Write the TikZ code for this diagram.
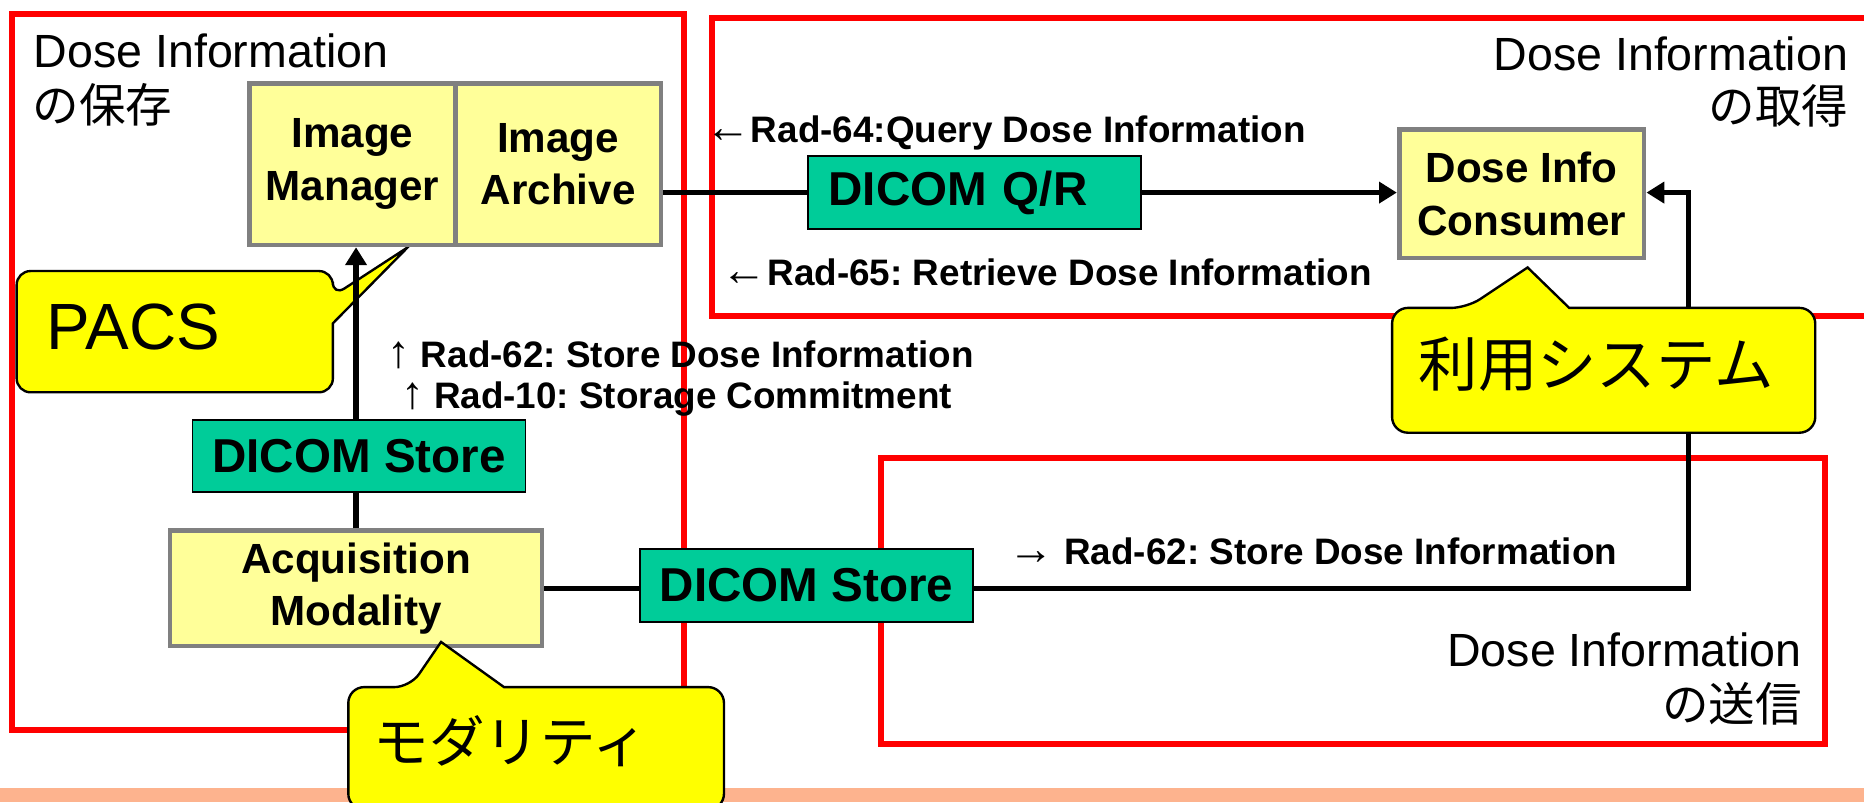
\documentclass[tikz,border=0pt]{standalone}
\usepackage{fontspec}
\setmainfont{Liberation Sans}
\newfontfamily\jpfont{Noto Sans CJK JP}
\usetikzlibrary{arrows.meta}
\definecolor{regionred}{HTML}{FF0000}
\definecolor{actorfill}{HTML}{FFFF99}
\definecolor{actorline}{HTML}{808080}
\definecolor{transfill}{HTML}{00CC99}
\definecolor{calloutfill}{HTML}{FFFF00}
\definecolor{bandfill}{HTML}{FDB38E}
\newcommand{\dirmark}[1]{{\mdseries\fontsize{23pt}{22pt}\selectfont #1}}
\begin{document}
\frenchspacing
\begin{tikzpicture}[x=0.6pt, y=-0.6pt,
  region/.style={draw=regionred, line width=3pt},
  regionlabel/.style={font=\fontsize{23.5pt}{28pt}\selectfont, inner sep=0pt},
  actor/.style={draw=actorline, fill=actorfill, line width=2.4pt, align=center,
    font=\bfseries\fontsize{21.3pt}{26.5pt}\selectfont, inner sep=0pt},
  trans/.style={draw=black, fill=transfill, line width=0.9pt, minimum width=168pt,
    minimum height=36.6pt, inner sep=0pt, font=\bfseries\fontsize{24pt}{28pt}\selectfont},
  msg/.style={font=\bfseries\fontsize{18.6pt}{22pt}\selectfont, inner sep=0pt, anchor=base west},
  link/.style={line width=2.6pt},
  flow/.style={link, -{Triangle[length=9pt, width=10.5pt]}},
  callout/.style={draw=black, fill=calloutfill, line width=1.2pt},
  callouttext/.style={inner sep=0pt, anchor=base west}
]
\useasboundingbox (0,0) rectangle (1568,675);

% profile regions
\draw[region] (10,12) rectangle (575,614);
\draw[region] (599,15) rectangle (1585,266);
\draw[region] (741,385) rectangle (1535,626);

% footer band
\fill[bandfill] (0,663) rectangle (1568,675);

% region titles
\node[regionlabel, anchor=base west] (t1a) at (28,57) {Dose Information};
\node[regionlabel, anchor=base west] (t1b) at (27,103) {\jpfont の保存};
\node[regionlabel, anchor=base east] (t2a) at (1555,59) {Dose Information};
\node[regionlabel, anchor=base east] (t2b) at (1555,104) {\jpfont の取得};
\node[regionlabel, anchor=base east] (t3a) at (1516,561) {Dose Information};
\node[regionlabel, anchor=base east] (t3b) at (1516,607) {\jpfont の送信};

% PACS callout (lies under the store arrow)
\draw[callout, rounded corners=7pt] (150,228) -- (280,228) -- (280,249) [sharp corners]
  -- (343,208) -- (280,272) [rounded corners=7pt] -- (280,330) -- (14,330) -- (14,228) -- cycle;
\node[callouttext, font=\fontsize{33pt}{36pt}\selectfont] (pacs) at (39,294) {PACS};

% actors
\node[actor, minimum width=103.8pt, minimum height=81.6pt] (im) at (296.5,138) {Image\\Manager};
\node[actor, minimum width=103.8pt, minimum height=81.6pt] (ia) at (469.5,138) {Image\\Archive};
\node[actor, minimum width=123.6pt, minimum height=64.8pt] (dic) at (1280,163) {Dose Info\\Consumer};
\node[actor, minimum width=187.8pt, minimum height=58.2pt] (am) at (299.5,495) {Acquisition\\Modality};

% transactions
\node[trans, text width=147.6pt, align=left, inner xsep=10.2pt] (dqr) at (820,162) {DICOM Q/R};
\node[trans] (st1) at (302,383.5) {DICOM Store};
\node[trans] (st2) at (678.5,492.5) {DICOM Store};

% connectors
\coordinate (bend) at (1420,495);
\draw[link] (ia.east |- dqr.west) -- (dqr.west);
\draw[flow] (dqr.east) -- (dic.west |- dqr.east);
\draw[link] (am.north) -- (am.north |- st1.south);
\draw[flow] (am.north |- st1.north) -- (am.north |- im.south);
\draw[link] (am.east) -- (am.east -| st2.west);
\draw[flow] (st2.east |- am.east) -- (bend) -- (bend |- dqr.east) -- (dic.east |- dqr.east);

% transaction labels
\node[msg] (q64) at (593,120) {\dirmark{←}Rad-64:Query Dose Information};
\node[msg] (r65) at (607,240) {\dirmark{←}Rad-65: Retrieve Dose Information};
\node[msg] (s62a) at (326,309) {\dirmark{↑} Rad-62: Store Dose Information};
\node[msg] (s10) at (337,344) {\dirmark{↑} Rad-10: Storage Commitment};
\node[msg] (s62b) at (848,475) {\dirmark{→} Rad-62: Store Dose Information};

% callouts
\draw[callout, rounded corners=8pt] (500,578) -- (609,578) -- (609,681) -- (293,681) -- (293,578)
  -- (345,578) [sharp corners] -- (371,540) -- (424,578) [rounded corners=8pt] -- cycle;
\node[callouttext, font=\jpfont\fontsize{28pt}{32pt}\selectfont] (mod) at (314,641) {モダリティ};
\draw[callout, rounded corners=8pt] (1400,259) -- (1527,259) -- (1527,364) -- (1171,364) -- (1171,259)
  -- (1234,259) [sharp corners] -- (1285,225) -- (1320,259) [rounded corners=8pt] -- cycle;
\node[callouttext, font=\jpfont\fontsize{30pt}{34pt}\selectfont] (use) at (1193,325) {利用システム};
\end{tikzpicture}
\end{document}
